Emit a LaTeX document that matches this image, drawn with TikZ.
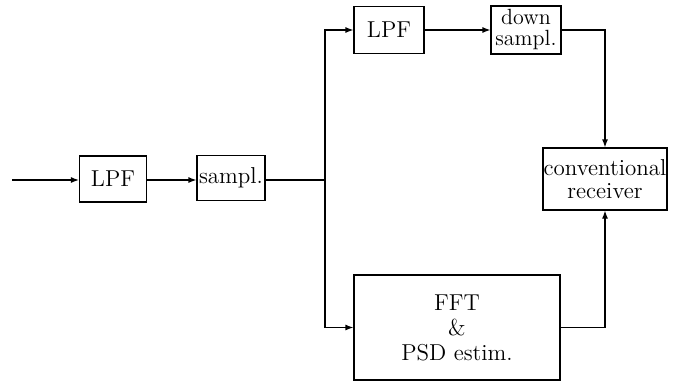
\documentclass[tikz,border=0pt]{standalone}
\usetikzlibrary{arrows.meta}
\begin{document}
\begin{tikzpicture}[x=0.5pt,y=-0.5pt,
  blk/.style={draw, line width=0.6pt, inner sep=0pt, align=center,
    font=\fontsize{11.5}{13}\selectfont},
  conn/.style={line width=0.6pt, -{Latex[length=4pt,width=3pt]}},
  plain/.style={line width=0.6pt}]
\useasboundingbox (0,0) rectangle (674,385);
\node[blk, minimum width=33.5pt, minimum height=23pt] (lpfa) at (113,179) {LPF};
\node[blk, minimum width=34pt, minimum height=22.5pt] (smp) at (231,178) {sampl.};
\node[blk, minimum width=35pt, minimum height=23.5pt] (lpfb) at (389,30) {LPF};
\node[blk, minimum width=35pt, minimum height=24pt, font=\fontsize{11}{10.5}\selectfont] (dwn) at (526,30) {down\\sampl.};
\node[blk, minimum width=62pt, minimum height=31pt, font=\fontsize{11.5}{11.5}\selectfont] (conv) at (605,179) {conventional\\receiver};
\node[blk, minimum width=103pt, minimum height=52.5pt, font=\fontsize{11.5}{12.5}\selectfont] (fft) at (457,327.5) {FFT\\\&\\PSD estim.};
\coordinate (in) at (12,180);
\coordinate (j) at (325,180);
\draw[conn] (in) -- (lpfa.west |- in);
\draw[conn] (lpfa.east |- in) -- (smp.west |- in);
\draw[plain] (smp.east |- j) -- (j);
\draw[conn] (j) |- (lpfb.west);
\draw[conn] (j) |- (fft.west);
\draw[conn] (lpfb.east) -- (dwn.west);
\draw[conn] (dwn.east) -| (conv.north);
\draw[conn] (fft.east) -| (conv.south);
\end{tikzpicture}
\end{document}
